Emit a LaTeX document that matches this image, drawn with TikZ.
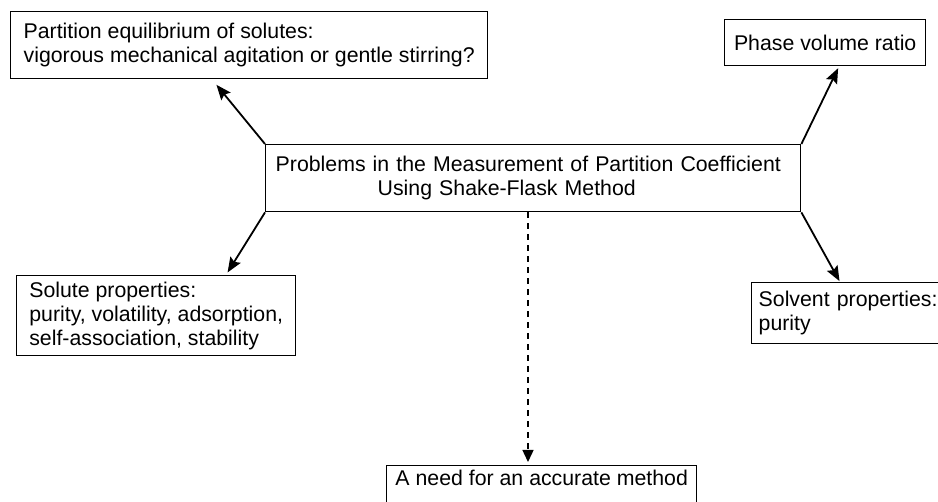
\documentclass[tikz,border=0pt]{standalone}
\usepackage{fontspec}
\setmainfont{Liberation Sans}
\usetikzlibrary{arrows.meta,calc}
\begin{document}
\begin{tikzpicture}[x=1pt,y=-1pt,
 box/.style={draw,line width=1.4pt,anchor=north west,inner sep=0pt,align=left,
   font=\fontsize{21.3}{24}\selectfont},
 arr/.style={line width=1.8pt,-{Stealth[length=15pt,width=12pt,inset=2.5pt]}},
 darr/.style={line width=1.4pt,dash pattern=on 6pt off 5pt,-{Triangle[length=12pt,width=11pt]}}]
\useasboundingbox (0,0) rectangle (938,502);
\clip (0,0) rectangle (938,502);
\node[box,minimum width=477pt,minimum height=67pt] (tl) at (10,11)
  {Partition equilibrium of solutes:\\vigorous mechanical agitation or gentle stirring?};
\node[box,inner xsep=10pt,text width=515pt,minimum height=67pt] (c) at (265,144)
  {Problems in the Measurement of Partition Coefficient\\\hspace*{102pt}Using Shake-Flask Method};
\node[box,minimum width=201pt,minimum height=46pt] (ph) at (724,19) {Phase volume ratio};
\node[box,minimum width=279pt,minimum height=80pt] (so) at (16,275)
  {Solute properties:\\purity, volatility, adsorption,\\self-association, stability};
\node[box,inner xsep=7pt,text width=205pt,minimum height=61pt] (sv) at (751,282)
  {Solvent properties:\\purity};
\node[box,inner ysep=7pt,minimum width=310pt,text height=13pt,text depth=25pt] (bt) at (386,465)
  {A need for an accurate method};
\draw[arr,shorten >=7pt] (c.north west) -- ($(tl.south west)+(202,0)$);
\draw[arr,shorten >=2pt] (c.north east) -- ($(ph.south west)+(115,0)$);
\draw[arr,shorten >=3pt] (c.south west) -- ($(so.north west)+(210,0)$);
\draw[arr,shorten >=1pt] (c.south east) -- ($(sv.north west)+(89,0)$);
\draw[darr,shorten >=3pt] ($(c.south west)+(263,0)$) -- ($(bt.north west)+(142,0)$);
\end{tikzpicture}
\end{document}
